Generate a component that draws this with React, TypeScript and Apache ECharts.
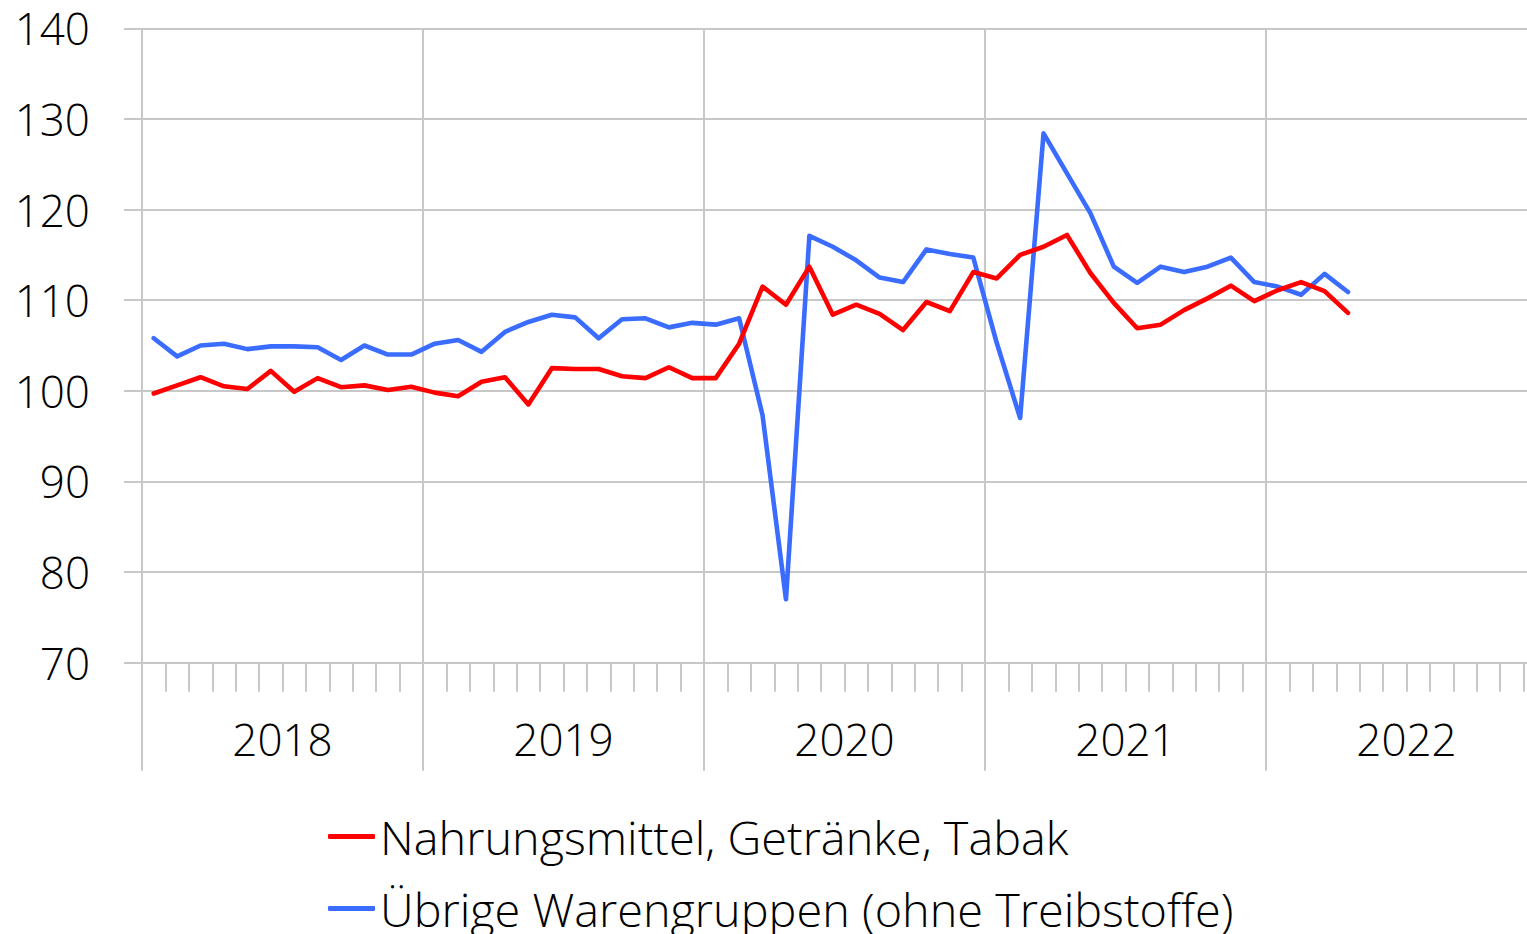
import React, { useEffect, useRef } from "react";
import * as echarts from "echarts";

const years = ["2018", "2019", "2020", "2021", "2022"];
const monthNames = ["Jan", "Feb", "Mär", "Apr", "Mai", "Jun", "Jul", "Aug", "Sep", "Okt", "Nov", "Dez"];
const categories = years.flatMap((y) => monthNames.map((m) => `${m} ${y}`));

const seriesNames = ["Nahrungsmittel, Getränke, Tabak", "Übrige Warengruppen (ohne Treibstoffe)"];

const food = [
  99.7, 100.6, 101.5, 100.5, 100.2, 102.2, 99.9, 101.4, 100.4, 100.6, 100.1, 100.45,
  99.8, 99.4, 101.0, 101.5, 98.5, 102.5, 102.4, 102.4, 101.6, 101.4, 102.6, 101.4,
  101.4, 105.2, 111.5, 109.5, 113.7, 108.4, 109.5, 108.5, 106.7, 109.8, 108.8, 113.1,
  112.4, 115.0, 115.9, 117.2, 113.0, 109.7, 106.9, 107.3, 108.9, 110.2, 111.6, 109.9,
  111.1, 112.0, 111.0, 108.6,
];

const other = [
  105.8, 103.8, 105.0, 105.2, 104.6, 104.9, 104.9, 104.8, 103.4, 105.0, 104.0, 104.0,
  105.2, 105.6, 104.3, 106.5, 107.6, 108.4, 108.1, 105.8, 107.9, 108.0, 107.0, 107.5,
  107.3, 108.0, 97.3, 77.0, 117.1, 115.9, 114.4, 112.5, 112.0, 115.6, 115.1, 114.7,
  105.3, 97.0, 128.4, 124.0, 119.6, 113.7, 111.9, 113.7, 113.1, 113.7, 114.7, 112.0,
  111.5, 110.6, 112.9, 110.9,
];

const yMin = 70;
const yMax = 140;
const yStep = 10;

const FONT = "Open Sans";
const WEIGHT = 300;
const GRID_COLOR = "#c8c8c8";
const TEXT_COLOR = "#000000";
const RED = "#ff0000";
const BLUE = "#3a6cff";

export default function App() {
  const ref = useRef<HTMLDivElement>(null);

  useEffect(() => {
    if (!ref.current) return;
    const chart = echarts.init(ref.current, null, { renderer: "svg" });
    const gridLine = { color: GRID_COLOR, width: 2 };
    const legendText = {
      fontSize: 46.8,
      lineHeight: 46,
      color: TEXT_COLOR,
      fontFamily: FONT,
      fontWeight: WEIGHT,
    };
    const legendBase = {
      orient: "horizontal",
      left: 328,
      padding: 0,
      itemWidth: 47,
      itemHeight: 5,
      icon: "roundRect",
      textStyle: legendText,
    };
    chart.setOption({
      animation: false,
      backgroundColor: "#ffffff",
      textStyle: { fontFamily: FONT },
      grid: { left: 142, top: 28.3, width: 1405, height: 634.4, containLabel: false },
      legend: [
        { ...legendBase, top: 813, data: [seriesNames[0]] },
        { ...legendBase, top: 885, data: [seriesNames[1]] },
      ],
      xAxis: [
        {
          type: "category",
          data: categories,
          boundaryGap: true,
          position: "bottom",
          axisLine: { show: true, lineStyle: gridLine },
          axisTick: { show: true, length: 29, interval: 0, lineStyle: gridLine },
          axisLabel: { show: false },
          splitLine: {
            show: true,
            interval: (i: number) => i % 12 === 0,
            lineStyle: gridLine,
          },
        },
        {
          type: "category",
          data: years,
          boundaryGap: true,
          position: "bottom",
          axisLine: { show: false },
          axisTick: { show: true, length: 108, interval: 0, lineStyle: gridLine },
          axisLabel: {
            show: true,
            interval: 0,
            margin: 54,
            fontSize: 44,
            lineHeight: 44,
            color: TEXT_COLOR,
            fontFamily: FONT,
            fontWeight: WEIGHT,
          },
          splitLine: { show: false },
        },
      ],
      yAxis: {
        type: "value",
        min: yMin,
        max: yMax,
        interval: yStep,
        axisLine: { show: false },
        axisTick: { show: true, length: 18, lineStyle: gridLine },
        axisLabel: {
          margin: 52,
          fontSize: 44,
          lineHeight: 40,
          color: TEXT_COLOR,
          fontFamily: FONT,
          fontWeight: WEIGHT,
          padding: [0, 0, 12, 0],
        },
        splitLine: { show: true, lineStyle: gridLine },
      },
      series: [
        {
          name: seriesNames[0],
          type: "line",
          xAxisIndex: 0,
          data: food,
          symbol: "none",
          color: RED,
          lineStyle: { color: RED, width: 4.6, cap: "round", join: "round" },
          z: 3,
        },
        {
          name: seriesNames[1],
          type: "line",
          xAxisIndex: 0,
          data: other,
          symbol: "none",
          color: BLUE,
          lineStyle: { color: BLUE, width: 4.6, cap: "round", join: "round" },
          z: 2,
        },
      ],
    });
    return () => chart.dispose();
  }, []);

  return (
    <div
      style={{
        position: "fixed",
        left: 0,
        top: 0,
        width: 1527,
        height: 934,
        overflow: "hidden",
        background: "#ffffff",
      }}
    >
      <div ref={ref} style={{ width: 1560, height: 934 }} />
    </div>
  );
}
